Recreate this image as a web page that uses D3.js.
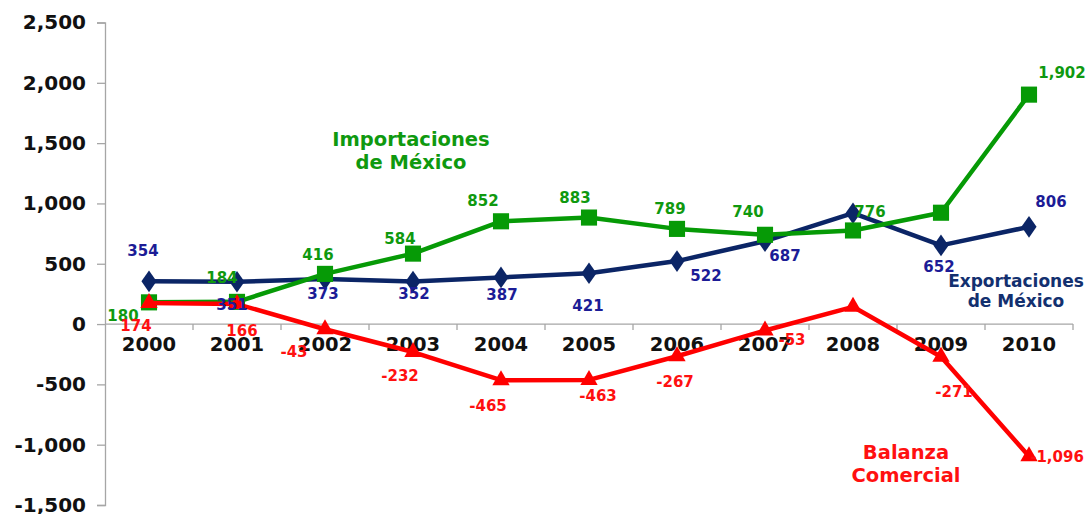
<!DOCTYPE html>
<html>
<head>
<meta charset="utf-8">
<script src="https://cdn.jsdelivr.net/npm/d3@7"></script>
<style>
  body { margin: 0; background: #fff; }
  text { font-family: "DejaVu Sans", Verdana, sans-serif; font-weight: bold; }
</style>
</head>
<body>
<div id="chart"></div>
<script>
// datos
const years = ["2000","2001","2002","2003","2004","2005","2006","2007","2008","2009","2010"];
const exportaciones = [354, 351, 373, 352, 387, 421, 522, 687, 919, 652, 806];
const importaciones = [180, 184, 416, 584, 852, 883, 789, 740, 776, 923, 1902];
const balanza = [174, 166, -43, -232, -465, -463, -267, -53, 143, -271, -1096];
const yTicks = [-1500, -1000, -500, 0, 500, 1000, 1500, 2000, 2500];

// etiquetas visibles
const showExp = [true, true, true, true, true, true, true, true, false, true, true];
const showImp = [true, true, true, true, true, true, true, true, true, false, true];
const showBal = [true, true, true, true, true, true, true, true, false, true, true];

// desplazamiento de etiquetas [dx, dy]
const offExp = [[-6,-30],[-5,23],[-2,15],[1,12],[1,18],[-1,33],[29,15],[20,15],[0,0],[-2,22],[22,-25]];
const offImp = [[-26,14],[-15,-24],[-7,-19],[-13,-15],[-18,-20],[-14,-20],[-7,-20],[-17,-23],[17,-18],[0,0],[33,-22]];
const offBal = [[-13,23],[5,27],[-31,23],[-13,24],[-13,26],[9,16],[-2,26],[27,10],[0,0],[13,35],[28,1]];

const width = 1088, height = 514;
const fmt = d => d3.format(",")(d).replace("\u2212", "-");

const svg = d3.select("#chart").append("svg")
  .attr("width", width).attr("height", height);

const x = d3.scaleBand().domain(years).range([105, 1073]).padding(0);
const cx = d => x(d) + x.bandwidth() / 2;
const y = d3.scaleLinear().domain([-1500, 2500]).range([505, 22.5]);

// eje Y
const yAxis = svg.append("g")
  .attr("transform", "translate(105,0)")
  .call(d3.axisLeft(y).tickValues(yTicks).tickSize(8).tickPadding(11).tickFormat(fmt));
yAxis.select(".domain").attr("stroke", "#a6a6a6").attr("stroke-width", 1.3);
yAxis.selectAll(".tick line").attr("stroke", "#a6a6a6").attr("stroke-width", 1.3);
yAxis.selectAll(".tick text").attr("font-size", 20).attr("fill", "#111")
  .attr("font-family", "'DejaVu Sans', Verdana, sans-serif").attr("font-weight", "bold");

// eje X en cero
const x0 = y(0);
svg.append("line").attr("x1", 105).attr("x2", 1073).attr("y1", x0).attr("y2", x0)
  .attr("stroke", "#a6a6a6").attr("stroke-width", 1.3);
svg.selectAll(".xtick").data(years.slice(1).concat(["end"])).enter().append("line")
  .attr("x1", d => d === "end" ? 1073 : x(d)).attr("x2", d => d === "end" ? 1073 : x(d))
  .attr("y1", x0).attr("y2", x0 + 6)
  .attr("stroke", "#a6a6a6").attr("stroke-width", 1.3);

// series
const series = [
  { vals: exportaciones, color: "#0b2566", label: "#1c1c96", marker: d3.symbolDiamond, size: 150, show: showExp, off: offExp },
  { vals: importaciones, color: "#069a06", label: "#0f990f", marker: d3.symbolSquare, size: 260, show: showImp, off: offImp },
  { vals: balanza, color: "#ff0000", label: "#ff1010", marker: d3.symbolTriangle, size: 130, show: showBal, off: offBal }
];

const line = d3.line().x((d, i) => cx(years[i])).y(d => y(d));

// etiquetas de años
svg.selectAll(".year").data(years).enter().append("text")
  .attr("x", d => cx(d)).attr("y", x0 + 20)
  .attr("text-anchor", "middle").attr("dominant-baseline", "central")
  .attr("font-size", 19.5).attr("fill", "#111")
  .text(d => d);

series.forEach(s => {
  svg.append("path").datum(s.vals).attr("d", line)
    .attr("fill", "none").attr("stroke", s.color).attr("stroke-width", 4.5)
    .attr("stroke-linejoin", "round");
  svg.append("g").selectAll("path").data(s.vals).enter().append("path")
    .attr("d", d3.symbol().type(s.marker).size(s.size))
    .attr("transform", (d, i) => `translate(${cx(years[i])},${y(d)})` + (s.marker === d3.symbolDiamond ? " scale(1.15,0.95)" : ""))
    .attr("fill", s.color);
});

series.forEach(s => {
  const pts = s.vals.map((v, i) => ({ v, i })).filter(p => s.show[p.i]);
  svg.append("g").selectAll("text").data(pts).enter().append("text")
    .attr("x", p => cx(years[p.i]) + s.off[p.i][0])
    .attr("y", p => y(p.v) + s.off[p.i][1])
    .attr("text-anchor", "middle").attr("dominant-baseline", "central")
    .attr("font-size", 15).attr("fill", s.label)
    .text(p => fmt(p.v));
});

// nombres de series
function title(lines, xc, yc, size, color, gap) {
  lines.forEach((t, i) => {
    svg.append("text").attr("x", xc).attr("y", yc + i * gap)
      .attr("text-anchor", "middle").attr("dominant-baseline", "central")
      .attr("font-size", size).attr("fill", color).text(t);
  });
}
title(["Importaciones", "de México"], 411, 139, 19.5, "#0f990f", 23);
title(["Exportaciones", "de México"], 1016, 281, 17, "#13306f", 20);
title(["Balanza", "Comercial"], 906, 452, 19.5, "#ff1010", 23);
</script>
</body>
</html>
